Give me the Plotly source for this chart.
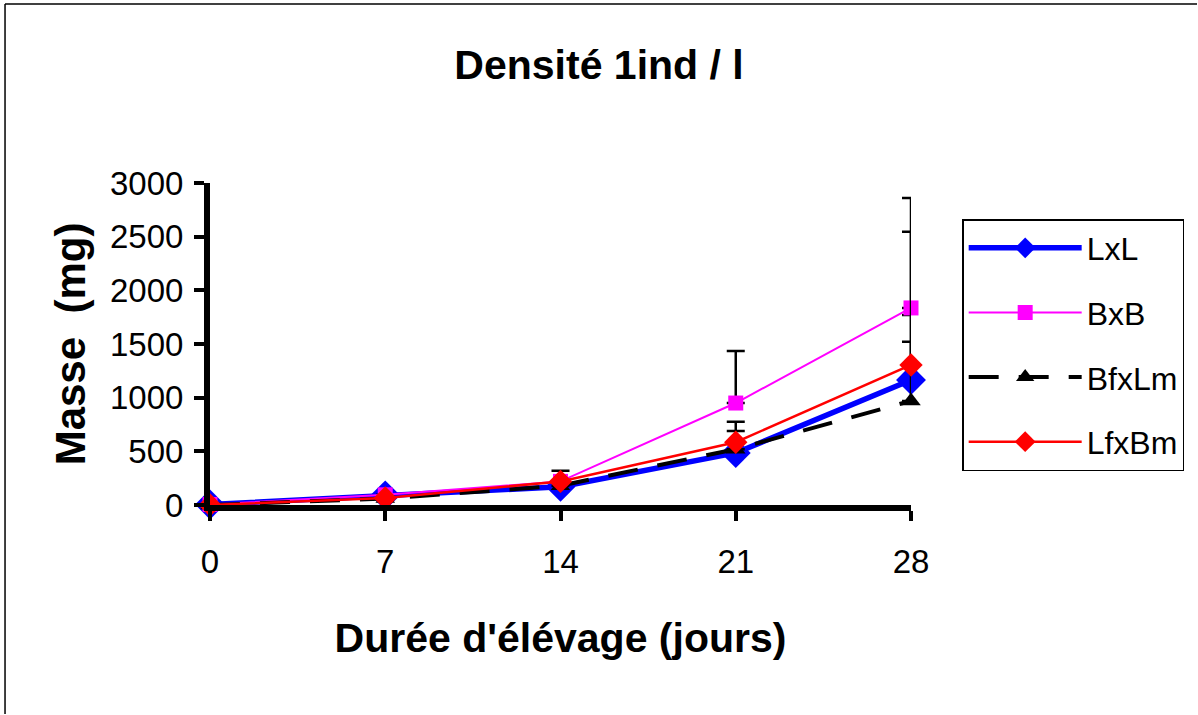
import plotly.graph_objects as go

days = [0, 7, 14, 21, 28]
series_names = ["LxL", "BxB", "BfxLm", "LfxBm"]
lxl = [5, 90, 170, 485, 1165]
bxb = [5, 95, 220, 950, 1836]
bfxlm = [0, 60, 180, 520, 970]
lfxbm = [0, 65, 220, 585, 1305]
lxl_err = [0, 0, 0, 205, 605]
bxb_err = [0, 0, 100, 485, 1024]
bfxlm_err = [0, 0, 0, 0, 550]
lfxbm_err = [0, 0, 0, 190, 1240]
y_ticks = [0, 500, 1000, 1500, 2000, 2500, 3000]

font = "Liberation Sans, Arial, sans-serif"

styles = [
    dict(color="#0000FF", width=5.5, dash="solid", symbol="diamond", size=23),
    dict(color="#FF00FF", width=2, dash="solid", symbol="square", size=15),
    dict(color="#000000", width=4, dash="30px,20px", symbol="triangle-up", size=17),
    dict(color="#FF0000", width=2.5, dash="solid", symbol="diamond", size=18),
]
values = [lxl, bxb, bfxlm, lfxbm]
errors = [lxl_err, bxb_err, bfxlm_err, lfxbm_err]

fig = go.Figure()
for name, vals, err, st in zip(series_names, values, errors, styles):
    fig.add_trace(go.Scatter(
        x=days, y=vals, name=name, mode="lines+markers",
        legendgroup=name,
        line=dict(color=st["color"], width=st["width"], dash=st["dash"]),
        marker=dict(color=st["color"], symbol=st["symbol"], size=st["size"]),
        error_y=dict(type="data", array=err, arrayminus=[0]*len(err), symmetric=False,
                     color="black", thickness=2.5, width=9),
        cliponaxis=False,
    ))

border = dict(color="black", width=1.5)
fig.update_layout(
    width=1198, height=715,
    paper_bgcolor="white", plot_bgcolor="white",
    margin=dict(l=210, r=287, t=183, b=210),
    font=dict(family=font, color="black", size=33),
    title=dict(text="<b>Densité 1ind / l</b>", x=0.5, xanchor="center", y=0.909, yanchor="middle",
               font=dict(size=41, family=font)),
    showlegend=True,
    legend=dict(x=1.073, y=0.888, xanchor="left", yanchor="top",
                bordercolor="black", borderwidth=1.5, bgcolor="white",
                font=dict(size=32, family=font), tracegroupgap=20,
                itemwidth=113),
    shapes=[
        dict(type="line", xref="paper", yref="paper", x0=-0.2924, x1=1.408, y0=1.556, y1=1.556, line=border),
        dict(type="line", xref="paper", yref="paper", x0=-0.2924, x1=-0.2924, y0=-0.649, y1=1.556, line=border),
    ],
)

fig.update_xaxes(
    range=[0, 28], tickvals=days, ticktext=[str(d) for d in days],
    showline=True, linecolor="black", linewidth=6,
    ticks="outside", tickwidth=4, ticklen=10, tickcolor="black",
    ticklabelstandoff=12,
    showgrid=False, zeroline=False,
    tickfont=dict(size=33, family=font),
    title=dict(text="<b>Durée d'élévage (jours)</b>", font=dict(size=41, family=font), standoff=47),
)
fig.update_yaxes(
    range=[0, 3000], tickvals=y_ticks,
    showline=True, linecolor="black", linewidth=6,
    ticks="outside", tickwidth=4, ticklen=10, tickcolor="black",
    ticklabelstandoff=4,
    showgrid=False, zeroline=False,
    tickfont=dict(size=33, family=font),
    title=dict(text="<b>Masse  (mg)</b>", font=dict(size=42, family=font), standoff=13),
)

fig.write_html(
    "out.html",
    config={"displayModeBar": False},
    post_script="document.body.style.margin='0';document.body.style.overflow='hidden';",
)
